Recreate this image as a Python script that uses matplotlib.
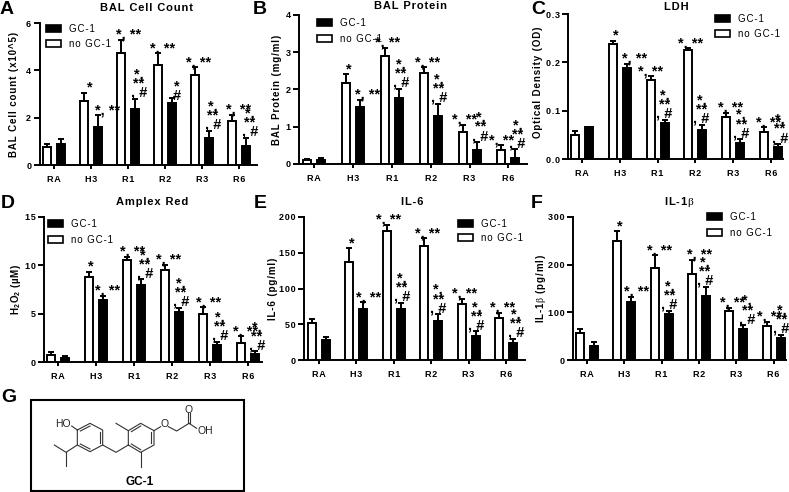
import matplotlib
matplotlib.use("Agg")
import matplotlib.pyplot as plt
from matplotlib.patches import Patch, Rectangle

plt.rcParams["font.family"] = ["Liberation Sans", "DejaVu Sans"]
plt.rcParams["mathtext.fontset"] = "custom"
plt.rcParams["mathtext.bf"] = "Liberation Sans:bold"
plt.rcParams["mathtext.rm"] = "Liberation Serif"
plt.rcParams["mathtext.default"] = "bf"

W, H = 789, 492
GAP = "\u200a"

groups = ["RA", "H3", "R1", "R2", "R3", "R6"]

a_white = [0.75, 2.7, 4.75, 4.22, 3.82, 1.85]
a_white_err = [0.15, 0.35, 0.55, 0.5, 0.3, 0.27]
a_black = [0.88, 1.6, 2.38, 2.6, 1.12, 0.82]
a_black_err = [0.22, 0.5, 0.42, 0.25, 0.32, 0.33]

b_white = [0.1, 2.18, 2.9, 2.43, 0.87, 0.37]
b_white_err = [0.04, 0.23, 0.22, 0.17, 0.18, 0.13]
b_black = [0.1, 1.52, 1.76, 1.29, 0.37, 0.17]
b_black_err = [0.05, 0.2, 0.26, 0.33, 0.22, 0.22]

c_white = [0.05, 0.237, 0.163, 0.226, 0.086, 0.056]
c_white_err = [0.008, 0.008, 0.008, 0.003, 0.01, 0.01]
c_black = [0.066, 0.189, 0.074, 0.06, 0.034, 0.024]
c_black_err = [0.001, 0.008, 0.007, 0.011, 0.007, 0.007]

d_white = [0.7, 8.8, 10.55, 9.55, 5.0, 2.0]
d_white_err = [0.35, 0.55, 0.35, 0.5, 0.65, 0.65]
d_black = [0.45, 6.45, 8.0, 5.2, 1.8, 0.8]
d_black_err = [0.15, 0.4, 0.55, 0.4, 0.3, 0.3]

e_white = [52, 137, 181, 159, 79, 59]
e_white_err = [6, 19, 8, 11, 7, 7]
e_black = [28, 72, 72, 55, 34, 24]
e_black_err = [4, 9, 8, 9, 6, 6]

f_white = [57, 250, 193, 181, 102, 72]
f_white_err = [7, 20, 27, 29, 8, 8]
f_black = [30, 122, 96, 135, 66, 46]
f_black_err = [8, 11, 7, 19, 7, 7]

one = "*"
two = "*, **"
three = "*,\n**\n, #"
short = "*\n#"
white_marks = ["", one, two, two, two, two]
black_marks = ["", two, three, three, three, three]
black_marks_a = ["", two, three, short, three, three]

# sideways shift of each significance label from its bar, in pixels
a_shift = [0, 6, 8, 5, 4, 7], [0, 10, 4, 5, 4, 4]
b_shift = [0, 3, 3, 4, 2, 0], [0, 8, 2, 1, 4, 2]
c_shift = [0, 3, 0, 2, 4, 5], [0, 8, 0, -1, 1, 2]
d_shift = [0, 2, 6, 4, 6, 5], [0, 5, 4, 2, 3, 2]
e_shift = [0, 2, 2, 3, 3, 4], [0, 5, 1, 0, 1, 3]
f_shift = [0, 3, 5, 8, 3, 3], [0, 5, 1, -1, 4, 1]


def spaced(s):
    return GAP.join(s)


def fx(x):
    return x / W


def fy(y):
    return 1 - y / H


def panel(fig, box, ymax, yticks, fmt, first, step, white, white_err, black, black_err, shift,
          title, title_xy, ylabel, ylabel_xy, letter, letter_xy, legend_xy, legend_gap,
          black_labels=black_marks):
    left, right, y0, ytop = box
    ax = fig.add_axes([fx(left), fy(y0), (right - left) / W, (y0 - ytop) / H])
    ax.patch.set_alpha(0)
    half = 7.0 / step
    width = 8.0 / step
    ax.set_xlim((left - first) / step, (right - first) / step)
    ax.set_ylim(0, ymax)
    xw = [i - half for i in range(6)]
    xb = [i + half for i in range(6)]
    ax.bar(xw, white, width, color="white", edgecolor="black", linewidth=1.4, label="no GC-1")
    ax.bar(xb, black, width, color="black", edgecolor="black", linewidth=1.4, label="GC-1")
    zeros = [0] * 6
    ax.errorbar(xw, white, yerr=[zeros, white_err], fmt="none", ecolor="black", elinewidth=1.4, capsize=2.2, capthick=1.4)
    ax.errorbar(xb, black, yerr=[zeros, black_err], fmt="none", ecolor="black", elinewidth=1.4, capsize=2.2, capthick=1.4)

    rows = zip(xw + xb, white + black, white_err + black_err, white_marks + black_labels, shift[0] + shift[1])
    for x, v, e, s, dx in rows:
        if not s:
            continue
        if s == three:
            dy = 2
        elif s == short:
            dy = -2
        else:
            dy = 1
        ax.annotate(s, (x, v + e), xytext=(dx, dy), textcoords="offset pixels", ha="center", va="baseline",
                    fontsize=10.5, fontweight="bold", linespacing=0.56, annotation_clip=False)

    for side in ["top", "right"]:
        ax.spines[side].set_visible(False)
    for side in ["left", "bottom"]:
        ax.spines[side].set_linewidth(1.4)
    ax.set_xticks(range(6))
    ax.set_xticklabels([spaced(g) for g in groups], fontsize=6.5, fontweight="bold")
    ax.set_yticks(yticks)
    ax.set_yticklabels([spaced(fmt.format(t)) for t in yticks], fontsize=6.5, fontweight="bold")
    ax.tick_params(axis="x", length=3, width=1.4, pad=4)
    ax.tick_params(axis="y", length=4, width=1.4, pad=2)

    fig.text(fx(title_xy[0]), fy(title_xy[1]), title, ha="center", va="center", fontsize=8, fontweight="bold")
    fig.text(fx(ylabel_xy[0]), fy(ylabel_xy[1]), ylabel, ha="center", va="center", rotation=90, fontsize=7, fontweight="bold")
    fig.text(fx(letter_xy[0]), fy(letter_xy[1]), letter, ha="left", va="baseline", fontsize=14, fontweight="bold")

    handles = [Patch(facecolor="black", edgecolor="black", linewidth=1.2, label=spaced("GC-1")),
               Patch(facecolor="white", edgecolor="black", linewidth=1.2, label=spaced("no GC-1"))]
    ax.legend(handles=handles, loc="upper left", bbox_to_anchor=(fx(legend_xy[0]), fy(legend_xy[1])),
              bbox_transform=fig.transFigure, frameon=False, fontsize=7, borderpad=0, borderaxespad=0,
              handlelength=1.55, handleheight=0.7, handletextpad=0.85, labelspacing=legend_gap)


fig = plt.figure(figsize=(W / 100, H / 100), dpi=100)

panel(fig, (39.5, 257, 165, 23), 6, [0, 2, 4, 6], "{:d}", 54, 37, a_white, a_white_err, a_black, a_black_err, a_shift,
      spaced("BAL Cell Count"), (147, 8), spaced("BAL Cell count (x10^5)"), (14, 94), "A", (0, 14), (46, 24), 0.5,
      black_labels=black_marks_a)
panel(fig, (299, 527, 164, 15), 4, [0, 1, 2, 3, 4], "{:d}", 314, 38.9, b_white, b_white_err, b_black, b_black_err, b_shift,
      spaced("BAL Protein"), (411, 6), spaced("BAL Protein (mg/ml)"), (277, 90), "B", (253, 14), (317, 18), 0.6)
panel(fig, (568, 783, 159, 14), 0.3, [0.0, 0.1, 0.2, 0.3], "{:.1f}", 582, 37.8, c_white, c_white_err, c_black, c_black_err, c_shift,
      spaced("LDH"), (676, 7), spaced("Optical Density (OD)"), (538, 82), "C", (531, 14), (715, 14), 0.5)
panel(fig, (44, 262, 362, 217), 15, [0, 5, 10, 15], "{:d}", 58, 38, d_white, d_white_err, d_black, d_black_err, d_shift,
      spaced("Amplex Red"), (152, 202), f"H$_{{2}}${GAP}O$_{{2}}${GAP} ({GAP}\u00b5{GAP}M{GAP})", (16, 289), "D", (1, 208), (48, 219), 0.6)
panel(fig, (304, 525, 360, 217), 200, [0, 50, 100, 150, 200], "{:d}", 319, 37.4, e_white, e_white_err, e_black, e_black_err, e_shift,
      spaced("IL-6"), (412, 202), spaced("IL-6 (pg/ml)"), (273, 289), "E", (254, 208), (458, 219), 0.4)
panel(fig, (573, 786, 360, 217), 300, [0, 100, 200, 300], "{:d}", 587, 37.3, f_white, f_white_err, f_black, f_black_err, f_shift,
      spaced("IL-1") + GAP + "$\\mathrm{\\beta}$", (679, 202), spaced("IL-1") + GAP + "$\\mathrm{\\beta}$" + GAP + spaced(" (pg/ml)"), (541, 289), "F", (531, 208), (707, 212), 0.6)

# structure in panel G, in pixels of the crop it was read from
overlay = fig.add_axes([0, 0, 1, 1], zorder=-1)
overlay.set_xlim(0, W)
overlay.set_ylim(H, 0)
overlay.axis("off")
overlay.add_patch(Rectangle((31, 399.5), 213, 91, facecolor="none", edgecolor="black", linewidth=1.5))

bonds = [
    [(95, 93), (112, 105)],
    [(112, 105), (150, 85), (188, 105), (188, 150), (150, 170), (112, 150), (112, 105)],
    [(121, 108), (150, 93)], [(180, 110), (180, 145)], [(121, 147), (150, 162)],
    [(43, 150), (78, 172), (112, 150)], [(78, 172), (78, 212)],
    [(188, 150), (228, 172), (265, 150)],
    [(265, 150), (265, 107), (302, 85), (342, 107), (342, 150), (302, 172), (265, 150)],
    [(274, 110), (302, 93)], [(334, 110), (334, 145)], [(274, 147), (302, 164)],
    [(265, 107), (228, 85)], [(302, 172), (302, 215)],
    [(342, 107), (362, 95)], [(385, 95), (410, 108), (447, 85)],
    [(444, 85), (444, 55)], [(451, 85), (451, 55)], [(447, 85), (470, 100)],
]
for bond in bonds:
    overlay.plot([40 + p[0] / 3 for p in bond], [395 + p[1] / 3 for p in bond], color="#333333", lw=0.8)
overlay.text(40 + 68 / 3, 395 + 88 / 3, "HO", ha="center", va="center", fontsize=7.5, color="#222222")
overlay.text(40 + 373 / 3, 395 + 88 / 3, "O", ha="center", va="center", fontsize=7.5, color="#222222")
overlay.text(40 + 447 / 3, 395 + 44 / 3, "O", ha="center", va="center", fontsize=7.5, color="#222222")
overlay.text(40 + 495 / 3, 395 + 108 / 3, "OH", ha="center", va="center", fontsize=7.5, color="#222222")
overlay.text(40 + 298 / 3, 395 + 262 / 3, "GC-1", ha="center", va="center", fontsize=8.5, fontweight="bold")
fig.text(fx(1), fy(402), "G", ha="left", va="baseline", fontsize=14, fontweight="bold")

fig.savefig("out.png", dpi=100)
